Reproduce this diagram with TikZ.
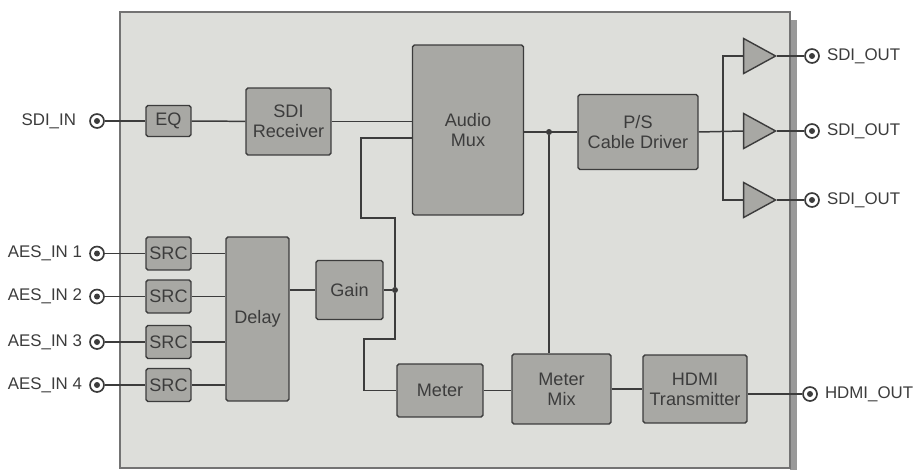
\documentclass[tikz,border=0pt]{standalone}
\usepackage{fontspec}
\setmainfont{Liberation Sans}
\usetikzlibrary{positioning,shapes.geometric}
\definecolor{panel}{HTML}{DDDEDA}
\definecolor{blk}{HTML}{A8A8A4}
\definecolor{ink}{HTML}{3C3C3C}
\begin{document}
\begin{tikzpicture}[x=0.02cm,y=-0.02cm,font=\fontsize{10.3}{11.5}\selectfont,text=ink]
\tikzstyle{box}=[draw=ink,fill=blk,line width=0.8pt,rounded corners=1pt,align=center,inner sep=1pt]
\tikzstyle{wire}=[draw=ink,line width=0.85pt]
\tikzstyle{port}=[circle,draw=ink,fill=white,line width=0.95pt,minimum size=0.28cm,inner sep=0pt,path picture={\fill[ink] (path picture bounding box.center) circle (0.06cm);}]
\tikzstyle{dot}=[circle,fill=ink,inner sep=0pt,minimum size=0.12cm]
\tikzstyle{amp}=[draw=ink,fill=blk,line width=0.8pt,isosceles triangle,isosceles triangle stretches,minimum width=0.7cm,minimum height=0.64cm,inner sep=0pt]
\tikzstyle{lbl}=[font=\fontsize{9.6}{11}\selectfont]
\useasboundingbox (0,0) rectangle (917,470);
\fill[black!40] (790,20) rectangle (797,470);
\draw[draw=black!55,fill=panel,line width=1pt] (120,12) rectangle (790,468);
\node[port] (sdiin) at (97,121) {};
\node[lbl,left=0.14cm of sdiin] (sdiinl) {SDI\_IN};
\node[box,minimum width=0.9cm,minimum height=0.62cm] (eq) at (168.5,121) {EQ};
\node[box,minimum width=1.7cm,minimum height=1.34cm] (rx) at (288.5,121.5) {SDI\\Receiver};
\node[box,minimum width=2.22cm,minimum height=3.4cm] (mux) at (468,130) {Audio\\Mux};
\node[box,minimum width=2.4cm,minimum height=1.5cm] (ps) at (638,132) {P/S\\Cable Driver};
\draw[wire] (sdiin) -- (eq);
\draw[wire] (eq) -- (rx);
\draw[wire] (rx) -- (rx -| mux.west);
\foreach \i/\y in {1/56,2/131,3/200}{
  \node[amp] (amp\i) at (754,\y) {};
  \node[port] (out\i) at (812,\y) {};
  \node[lbl,right=0.02cm of out\i] (outl\i) {SDI\_OUT};
  \draw[wire] (amp\i.apex) -- (out\i);
}
\draw[wire] (ps.east) -- (amp2.lower side);
\draw[wire] (amp1.lower side) -- ++(-20,0) |- (amp3.lower side);
\foreach \i/\y in {1/253.5,2/296.5,3/342,4/385}{
  \node[port] (aes\i) at (97,\y) {};
  \node[lbl,left=0.02cm of aes\i] (aesl\i) {AES\_IN \i};
  \node[box,minimum width=0.9cm,minimum height=0.66cm] (src\i) at (168.5,\y) {SRC};
}
\node[box,minimum width=1.26cm,minimum height=3.28cm] (dly) at (257.5,319) {Delay};
\foreach \i in {1,...,4}{
  \draw[wire] (aes\i) -- (src\i);
  \draw[wire] (src\i) -- (src\i -| dly.west);
}
\node[box,minimum width=1.34cm,minimum height=1.18cm] (gain) at (349.5,290) {Gain};
\node[dot] (jg) at (395,290) {};
\draw[wire] (gain -| dly.east) -- (gain);
\draw[wire] (gain) -- (jg);
\draw[wire] (jg) |- (361,218) |- ([yshift=-0.16cm]mux.west);
\node[box,minimum width=1.72cm,minimum height=1.06cm] (meter) at (440,390.5) {Meter};
\node[box,minimum width=1.98cm,minimum height=1.4cm] (mmix) at (561.5,389) {Meter\\Mix};
\node[box,minimum width=2.08cm,minimum height=1.36cm] (hdmi) at (695,389) {HDMI\\Transmitter};
\draw[wire] (jg) |- (364,339) |- (meter.west);
\draw[wire] (meter) -- (meter -| mmix.west);
\draw[wire] (mmix) -- (hdmi);
\node[port] (hout) at (810,394) {};
\node[lbl,right=0.02cm of hout] (houtl) {HDMI\_OUT};
\draw[wire] (hout -| hdmi.east) -- (hout);
\node[dot] (jm) at (549,132) {};
\draw[wire] (mux.east |- jm) -- (ps.west |- jm);
\draw[wire] (jm) -- (jm |- mmix.north);
\end{tikzpicture}
\end{document}
